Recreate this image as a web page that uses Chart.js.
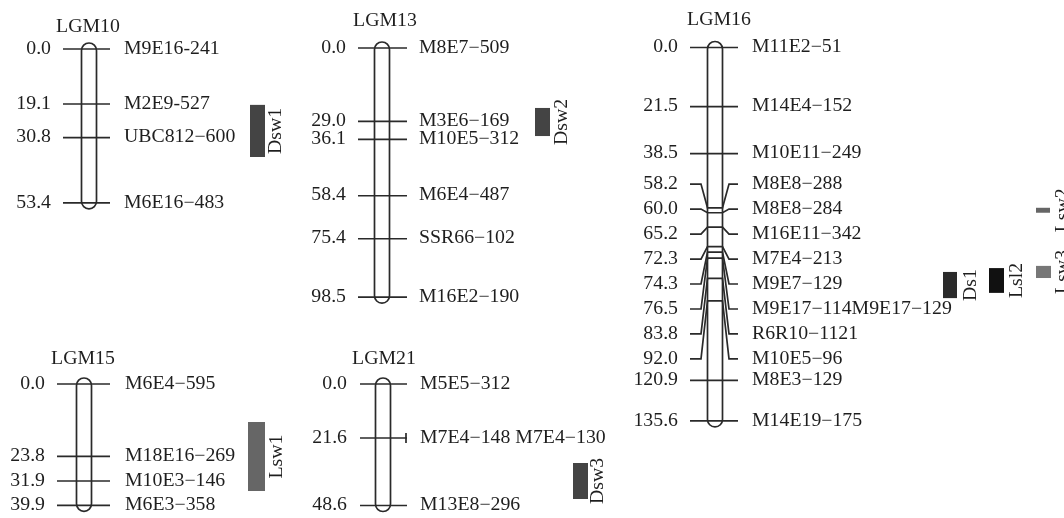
<!DOCTYPE html>
<html>
<head>
<meta charset="utf-8">
<script src="https://cdn.jsdelivr.net/npm/chart.js@4.4.0/dist/chart.umd.min.js"></script>
<style>
    html, body { margin: 0; padding: 0; background: #fff; }
    #wrap { width: 1064px; height: 518px; }
</style>
</head>
<body>
<div id="wrap"><canvas id="map"></canvas></div>
<script>
// Map positions (cM) and marker names per linkage group
const lgm10Pos = [0.0, 19.1, 30.8, 53.4];
const lgm10Markers = ['M9E16-241', 'M2E9-527', 'UBC812\u2212600', 'M6E16\u2212483'];

const lgm13Pos = [0.0, 29.0, 36.1, 58.4, 75.4, 98.5];
const lgm13Markers = ['M8E7\u2212509', 'M3E6\u2212169', 'M10E5\u2212312', 'M6E4\u2212487', 'SSR66\u2212102', 'M16E2\u2212190'];

const lgm16Pos = [0.0, 21.5, 38.5, 58.2, 60.0, 65.2, 72.3, 74.3, 76.5, 83.8, 92.0, 120.9, 135.6];
const lgm16Markers = ['M11E2\u221251', 'M14E4\u2212152', 'M10E11\u2212249', 'M8E8\u2212288', 'M8E8\u2212284',
    'M16E11\u2212342', 'M7E4\u2212213', 'M9E7\u2212129', 'M9E17\u2212114M9E17\u2212129', 'R6R10\u22121121',
    'M10E5\u221296', 'M8E3\u2212129', 'M14E19\u2212175'];

const lgm15Pos = [0.0, 23.8, 31.9, 39.9];
const lgm15Markers = ['M6E4\u2212595', 'M18E16\u2212269', 'M10E3\u2212146', 'M6E3\u2212358'];

const lgm21Pos = [0.0, 21.6, 48.6];
const lgm21Markers = ['M5E5\u2212312', 'M7E4\u2212148 M7E4\u2212130', 'M13E8\u2212296'];

// QTL intervals (cM on their linkage group)
const qtlNames = ['Dsw1', 'Dsw2', 'Lsw1', 'Dsw3', 'Ds1', 'Lsl2', 'Lsw2', 'Lsw3'];
const qtlGroups = ['LGM10', 'LGM13', 'LGM15', 'LGM21', 'LGM16', 'LGM16', 'LGM16', 'LGM16'];
const qtlStart = [19.4, 23.7, 12.5, 31.6, 81.5, 80.1, 58.2, 79.3];
const qtlEnd = [37.5, 34.8, 35.2, 46.0, 91.0, 89.1, 60.0, 83.7];

// ---- layout / style ----
const W = 1064, H = 518;
const INK = '#2a2a2a';
const TEXT = '#1e1e1e';
const HALF = 7.5;        // half width of the chromosome bar
const CAP_PAD = 6;       // bar end beyond first/last marker, px
const FONT = '18px "Liberation Serif", "Times New Roman", serif';
const STRETCH = 1.1;

const groups = [
    { name: 'LGM10', pos: lgm10Pos, markers: lgm10Markers, cx: 89, tickL: 63, tickR: 110, posX: 51, nameX: 124, titleX: 88, titleY: 27, y0: 49, k: 2.88 },
    { name: 'LGM13', pos: lgm13Pos, markers: lgm13Markers, cx: 382, tickL: 358, tickR: 407, posX: 346, nameX: 419, titleX: 385, titleY: 21, y0: 48, k: 2.53 },
    { name: 'LGM16', pos: lgm16Pos, markers: lgm16Markers, cx: 715, tickL: 690, tickR: 738, posX: 678, nameX: 752, titleX: 719, titleY: 20, y0: 47.5, k: 2.754,
      fan: { from: 3, to: 10, top: 49.6, step: 9.07, bendL: 701, bendR: 729 } },
    { name: 'LGM15', pos: lgm15Pos, markers: lgm15Markers, cx: 84, tickL: 57, tickR: 110, posX: 45, nameX: 125, titleX: 83, titleY: 359, y0: 384, k: 3.04 },
    { name: 'LGM21', pos: lgm21Pos, markers: lgm21Markers, cx: 383, tickL: 360, tickR: 407, posX: 347, nameX: 420, titleX: 384, titleY: 359, y0: 384, k: 2.5,
      cap: 1 }
];

const qtlX = [250, 535, 248, 573, 943, 989, 1036, 1036];
const qtlW = [15, 15, 17, 15, 14, 15, 14, 15];
const qtlLabelX = [276, 562, 277, 598, 971, 1017, 1063, 1063];
const qtlColors = ['#444', '#444', '#666', '#444', '#2b2b2b', '#111', '#666', '#777'];

function labelValue(g, i) {
    if (g.fan && i >= g.fan.from && i <= g.fan.to) {
        return g.fan.top + (i - g.fan.from) * g.fan.step;
    }
    return g.pos[i];
}

// one dataset per marker line
const datasets = [];
groups.forEach(g => {
    g.pos.forEach((v, i) => {
        let pts;
        if (g.fan && i >= g.fan.from && i <= g.fan.to) {
            const L = labelValue(g, i);
            pts = [
                { x: g.tickL, y: L }, { x: g.fan.bendL, y: L },
                { x: g.cx - HALF, y: v }, { x: g.cx + HALF, y: v },
                { x: g.fan.bendR, y: L }, { x: g.tickR, y: L }
            ];
        } else {
            pts = [{ x: g.tickL, y: v }, { x: g.tickR, y: v }];
        }
        datasets.push({
            data: pts,
            yAxisID: 'y' + g.name,
            showLine: true,
            borderColor: INK,
            borderWidth: 1.7,
            pointRadius: 0,
            tension: 0
        });
    });
});

const scales = {
    x: { type: 'linear', min: 0, max: W, display: false }
};
groups.forEach(g => {
    scales['y' + g.name] = {
        type: 'linear', display: false, reverse: true,
        min: -g.y0 / g.k, max: (H - g.y0) / g.k
    };
});

function stretchedText(ctx, text, x, y, align, rotate) {
    ctx.save();
    ctx.translate(x, y);
    if (rotate) ctx.rotate(-Math.PI / 2);
    ctx.scale(STRETCH, 1);
    ctx.textAlign = align;
    ctx.textBaseline = 'middle';
    ctx.fillText(text, 0, 0);
    ctx.restore();
}

const mapPlugin = {
    id: 'linkageMap',
    afterDatasetsDraw(chart) {
        const ctx = chart.ctx;
        ctx.save();
        ctx.strokeStyle = INK;
        ctx.lineWidth = 1.7;
        ctx.fillStyle = TEXT;
        ctx.font = FONT;

        groups.forEach(g => {
            const ys = chart.scales['y' + g.name];
            const top = ys.getPixelForValue(g.pos[0]) - CAP_PAD;
            const bot = ys.getPixelForValue(g.pos[g.pos.length - 1]) + CAP_PAD;
            const l = g.cx - HALF, r = g.cx + HALF;

            // chromosome outline
            ctx.beginPath();
            ctx.moveTo(l, top + HALF);
            ctx.arc(g.cx, top + HALF, HALF, Math.PI, 0);
            ctx.lineTo(r, bot - HALF);
            ctx.arc(g.cx, bot - HALF, HALF, 0, Math.PI);
            ctx.closePath();
            ctx.stroke();

            // end cap for co-located markers
            if (g.cap !== undefined) {
                const cy = ys.getPixelForValue(g.pos[g.cap]);
                ctx.beginPath();
                ctx.moveTo(g.tickR - 1, cy - 5);
                ctx.lineTo(g.tickR - 1, cy + 5);
                ctx.stroke();
            }

            // title
            stretchedText(ctx, g.name, g.titleX, g.titleY, 'center', false);

            // position and marker labels
            g.pos.forEach((v, i) => {
                const py = ys.getPixelForValue(labelValue(g, i));
                stretchedText(ctx, v.toFixed(1), g.posX, py, 'right', false);
                stretchedText(ctx, g.markers[i], g.nameX, py, 'left', false);
            });
        });

        // QTL bars
        qtlNames.forEach((name, i) => {
            const ys = chart.scales['y' + qtlGroups[i]];
            const y1 = ys.getPixelForValue(qtlStart[i]);
            const y2 = ys.getPixelForValue(qtlEnd[i]);
            ctx.fillStyle = qtlColors[i];
            ctx.fillRect(qtlX[i], y1, qtlW[i], y2 - y1);
            ctx.fillStyle = TEXT;
            stretchedText(ctx, name, qtlLabelX[i], (y1 + y2) / 2, 'center', true);
        });

        ctx.restore();
    }
};

new Chart(document.getElementById('map'), {
    type: 'scatter',
    data: { datasets: datasets },
    options: {
        responsive: true,
        maintainAspectRatio: false,
        animation: false,
        layout: { padding: 0 },
        plugins: {
            legend: { display: false },
            tooltip: { enabled: false }
        },
        scales: scales
    },
    plugins: [mapPlugin]
});
</script>
</body>
</html>
